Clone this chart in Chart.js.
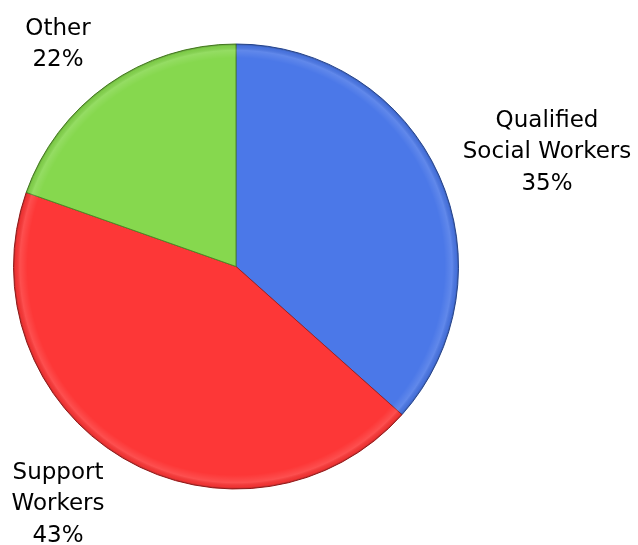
<!DOCTYPE html>
<html>
<head>
<meta charset="utf-8">
<script src="https://cdn.jsdelivr.net/npm/chart.js@4"></script>
<style>
  html, body { margin: 0; padding: 0; background: #fff; }
  #wrap { width: 638px; height: 545px; }
</style>
</head>
<body>
<div id="wrap"><canvas id="chartCanvas" width="638" height="545"></canvas></div>
<script>
// chart data (slice sizes as drawn in the picture, label text as printed)
const categories = ['Qualified Social Workers', 'Support Workers', 'Other'];
const shares = [36.6, 43.8, 19.6];
const labelLines = [
    ['Qualified', 'Social Workers', '35%'],
    ['Support', 'Workers', '43%'],
    ['Other', '22%']
];
const sliceColors = ['#4b78e8', '#fd3737', '#86d84e'];
const edgeColors = ['#2d4f9e', '#a41f1f', '#4e8a25'];

// where each label block is centred (x, first line y)
const labelPos = [[547, 121], [58, 473], [58, 29]];

// draws the outside labels
const outsideLabels = {
    id: 'outsideLabels',
    afterDraw(chart) {
        const c = chart.ctx;
        c.save();
        c.font = '23px "DejaVu Sans", sans-serif';
        c.fillStyle = '#000';
        c.textAlign = 'center';
        c.textBaseline = 'middle';
        labelLines.forEach((lines, i) => {
            const [x, y] = labelPos[i];
            lines.forEach((t, j) => c.fillText(t, x, y + j * 31.5));
        });
        c.restore();
    }
};

// soft bevel: darken rim, lighten just inside it
const bevel = {
    id: 'bevel',
    afterDatasetsDraw(chart) {
        const arc = chart.getDatasetMeta(0).data[0];
        if (!arc) return;
        const { x, y, outerRadius } = arc.getProps(['x', 'y', 'outerRadius'], true);
        const c = chart.ctx;
        c.save();
        const g = c.createRadialGradient(x, y, outerRadius - 14, x, y, outerRadius);
        g.addColorStop(0, 'rgba(255,255,255,0)');
        g.addColorStop(0.55, 'rgba(255,255,255,0.12)');
        g.addColorStop(0.85, 'rgba(0,0,0,0.05)');
        g.addColorStop(1, 'rgba(0,0,0,0.25)');
        c.beginPath();
        c.arc(x, y, outerRadius, 0, Math.PI * 2);
        c.fillStyle = g;
        c.fill();
        c.restore();
    }
};

const ctx = document.getElementById('chartCanvas').getContext('2d');
new Chart(ctx, {
    type: 'pie',
    data: {
        labels: categories,
        datasets: [{
            data: shares,
            backgroundColor: sliceColors,
            borderColor: edgeColors,
            borderWidth: 1
        }]
    },
    options: {
        responsive: false,
        animation: false,
        layout: { padding: { left: 13, right: 179, top: 43, bottom: 55 } },
        plugins: {
            legend: { display: false },
            tooltip: { enabled: false }
        }
    },
    plugins: [bevel, outsideLabels]
});
</script>
</body>
</html>
